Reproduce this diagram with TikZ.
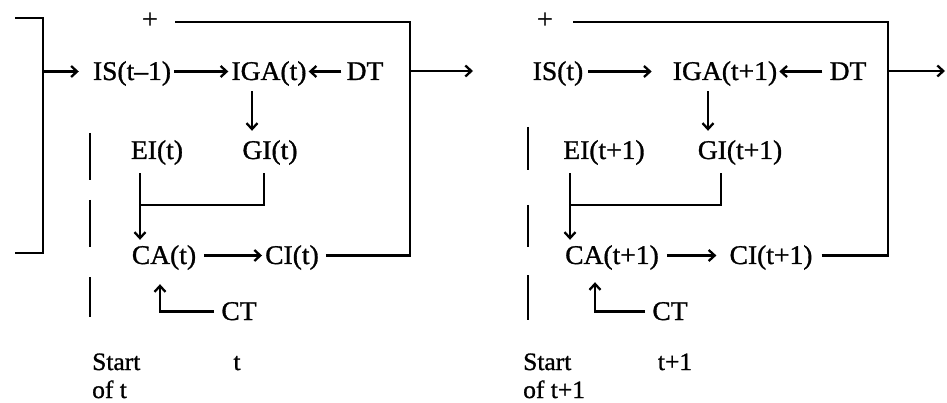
\documentclass[tikz,border=0pt]{standalone}
\usepackage{fontspec}
\setmainfont[FakeStretch=1.02,FakeBold=1.1]{Liberation Serif}
\usetikzlibrary{arrows.meta,calc}
\begin{document}
\begin{tikzpicture}[x=1pt,y=-1pt,
  lbl/.style={inner sep=0pt, text height=21pt, text depth=4pt, anchor=base, font=\fontsize{27}{31}\selectfont},
  lblw/.style={lbl, anchor=base west, font=\fontsize{25}{29}\selectfont},
  ln/.style={line width=2.3pt},
  arr/.style={ln, -{Straight Barb[length=6pt,width=11pt]}}]
\useasboundingbox (0,0) rectangle (947,403);

% ---------- left panel ----------
\node[lbl] (plusL) at (150,28) {+};
\node[lbl] (ISL) at (132,80) {IS(t--1)};
\node[lbl] (IGAL) at (269,80) {IGA(t)};
\node[lbl] (DTL) at (365,80) {DT};
\node[lbl] (EIL) at (157,159) {EI(t)};
\node[lbl] (GIL) at (270,159) {GI(t)};
\node[lbl] (CAL) at (164,264) {CA(t)};
\node[lbl] (CIL) at (292,264) {CI(t)};
\node[lbl] (CTL) at (239,320) {CT};
\node[lblw] (startL) at (92,370) {Start};
\node[lblw, text depth=0pt] (oftL) at (92,398) {of t};
\node[lbl, font=\fontsize{25}{29}\selectfont] (tL) at (237,370) {t};

\coordinate (bTL) at (15,18);
\coordinate (bT) at (43,18);
\coordinate (bB) at (43,253);
\coordinate (bBL) at (15,253);
\draw[ln] (bTL) -- (bT) -- (bB) -- (bBL);
\draw[arr, shorten >=14pt] (ISL.west -| bT) -- (ISL.west);
\draw[arr, shorten <=3pt, shorten >=3pt] (ISL.east) -- (IGAL.west);
\draw[arr, shorten <=5pt, shorten >=2pt] (DTL.west) -- (IGAL.east);
\coordinate (rTL) at (410,22);
\coordinate (tlL) at (175,22);
\coordinate (outL) at (473,71);
\draw[ln, shorten <=7pt] (CIL.east) -| (rTL) -- (tlL);
\draw[arr] (outL -| rTL) -- (outL);
\coordinate (gxL) at (252,0);
\draw[arr, shorten <=7pt, shorten >=7pt] (IGAL.south -| gxL) -- (GIL.north -| gxL);
\coordinate (exL) at (140,0);
\coordinate (g2L) at (264,0);
\coordinate (jL) at (140,205);
\draw[arr, shorten <=10pt, shorten >=3pt] (EIL.south -| exL) -- (CAL.north -| exL);
\draw[ln, shorten <=10pt] (GIL.south -| g2L) |- (jL);
\draw[arr, shorten <=8pt, shorten >=3pt] (CAL.east) -- (CIL.west);
\coordinate (cxL) at (160,0);
\draw[arr, shorten <=7pt, shorten >=16pt] (CTL.west) -| (CAL.south -| cxL);
\draw[ln] (90,133) -- (90,180) (90,200) -- (90,247) (90,277) -- (90,317);

% ---------- right panel ----------
\node[lbl] (plusR) at (545,28) {+};
\node[lbl] (ISR) at (558,80) {IS(t)};
\node[lbl] (IGAR) at (725,80) {IGA(t+1)};
\node[lbl] (DTR) at (848,80) {DT};
\node[lbl] (EIR) at (604,159) {EI(t+1)};
\node[lbl] (GIR) at (740,159) {GI(t+1)};
\node[lbl] (CAR) at (612,264) {CA(t+1)};
\node[lbl] (CIR) at (771,264) {CI(t+1)};
\node[lbl] (CTR) at (670,320) {CT};
\node[lblw] (startR) at (523,370) {Start};
\node[lblw, text depth=0pt] (oftR) at (523,398) {of t+1};
\node[lbl, font=\fontsize{25}{29}\selectfont] (tR) at (675,370) {t+1};

\draw[arr, shorten <=5pt, shorten >=21pt] (ISR.east) -- (IGAR.west);
\draw[arr, shorten <=7pt, shorten >=2pt] (DTR.west) -- (IGAR.east);
\coordinate (rTR) at (888,22);
\coordinate (tlR) at (573,22);
\coordinate (outR) at (945,71);
\draw[ln, shorten <=9pt] (CIR.east) -| (rTR) -- (tlR);
\draw[arr] (outR -| rTR) -- (outR);
\coordinate (gxR) at (708,0);
\draw[arr, shorten <=7pt, shorten >=7pt] (IGAR.south -| gxR) -- (GIR.north -| gxR);
\coordinate (exR) at (570,0);
\coordinate (g2R) at (721,0);
\coordinate (jR) at (570,205);
\draw[arr, shorten <=10pt, shorten >=3pt] (EIR.south -| exR) -- (CAR.north -| exR);
\draw[ln, shorten <=10pt] (GIR.south -| g2R) |- (jR);
\draw[arr, shorten <=8pt, shorten >=13pt] (CAR.east) -- (CIR.west);
\coordinate (cxR) at (595,0);
\draw[arr, shorten <=7pt, shorten >=14pt] (CTR.west) -| (CAR.south -| cxR);
\draw[ln] (528,127) -- (528,170) (528,205) -- (528,247) (528,275) -- (528,320);
\end{tikzpicture}
\end{document}
